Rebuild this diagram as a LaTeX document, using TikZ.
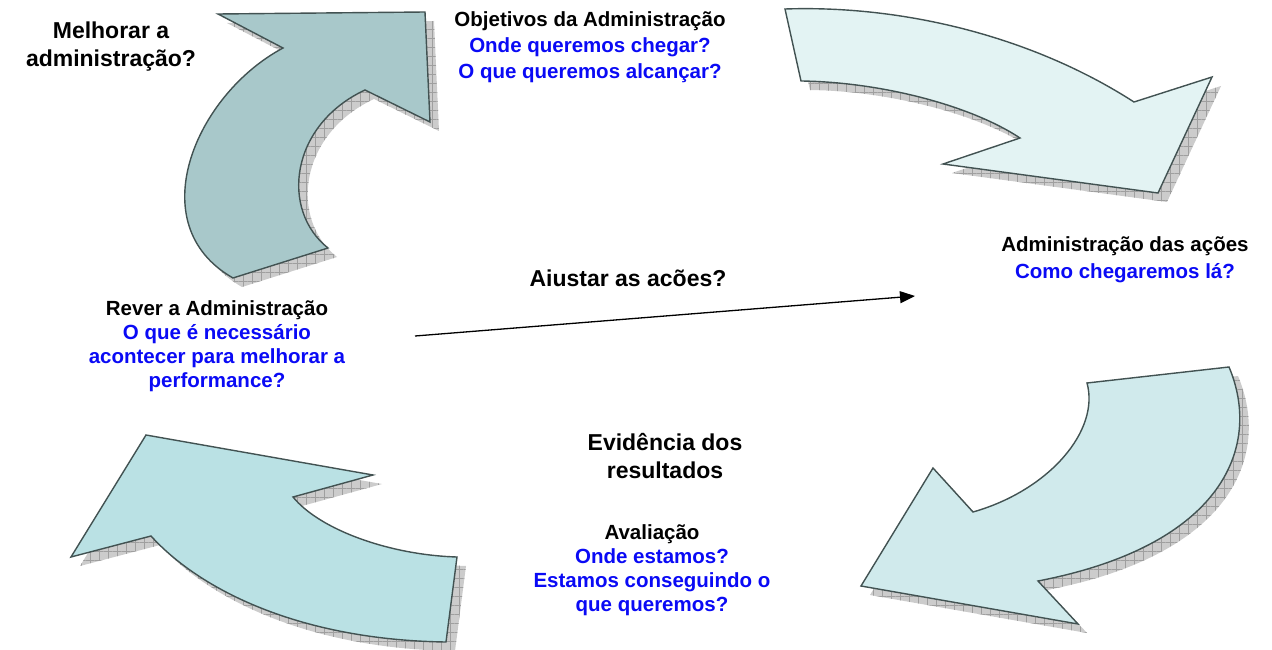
\documentclass[tikz,border=0pt]{standalone}
\usepackage{fontspec}
\setmainfont{Liberation Sans}
\usepackage{tikz}
\usetikzlibrary{shadows,calc,arrows.meta,patterns.meta}
\usetikzlibrary{positioning}
\definecolor{corA}{RGB}{168,200,202}
\definecolor{corB}{RGB}{227,243,243}
\definecolor{corC}{RGB}{208,234,236}
\definecolor{corD}{RGB}{186,225,228}
\definecolor{borda}{RGB}{66,82,82}
\definecolor{azul}{RGB}{10,10,245}

\begin{document}
\begin{tikzpicture}[x=1pt, y=-1pt,
	seta/.style={draw=borda, line width=1.4pt, line join=miter,
		general shadow={shadow xshift=9pt, shadow yshift=-9pt, fill=gray!40},
		general shadow={shadow xshift=9pt, shadow yshift=-9pt, pattern={Hatch[angle=0,distance=9pt,line width=0.35pt]}, pattern color=gray!75}},
	pergunta/.style={align=center, inner sep=0pt, anchor=north, text=azul, font=\bfseries\fontsize{20.5}{26}\selectfont},
	titulo/.style={align=center, inner sep=0pt, anchor=north, font=\bfseries\fontsize{23}{28}\selectfont}]
	\useasboundingbox (0,0) rectangle (1272,650);
	
	\draw[seta, fill=corA] (233,278) -- (328,248)
		.. controls (280,210) and (290,125) .. (365,90)
		-- (430,122) -- (425,12) -- (218,14) -- (283,48)
		.. controls (195,95) and (140,225) .. (233,278) -- cycle;
	\draw[seta, fill=corB] (785,9) -- (801,81)
		.. controls (880,82) and (970,105) .. (1020,138)
		-- (943,164) -- (1158,193) -- (1212,77) -- (1134,102)
		.. controls (1030,35) and (900,5) .. (785,9) -- cycle;
	\draw[seta, fill=corC] (1087,383) -- (1229,367)
		.. controls (1262,445) and (1225,545) .. (1038,581)
		-- (1078,624) -- (861,586) -- (933,468) -- (973,512)
		.. controls (1050,490) and (1100,430) .. (1087,383) -- cycle;
	\draw[seta, fill=corD] (446,642) -- (457,557)
		.. controls (390,555) and (320,530) .. (293,497)
		-- (373,475) -- (146,435) -- (71,557) -- (151,536)
		.. controls (200,590) and (300,640) .. (446,642) -- cycle;
	
	\node[pergunta] (objetivos) at (590,11) {\textcolor{black}{Objetivos da Administração}\\Onde queremos chegar?\\O que queremos alcançar?};
	\node[pergunta, font=\bfseries\fontsize{20.5}{27}\selectfont] (acoes) at (1125,236) {\textcolor{black}{Administração das ações}\\Como chegaremos lá?};
	\node[pergunta, font=\bfseries\fontsize{20.5}{24}\selectfont] (avaliacao) at (652,524) {\textcolor{black}{Avaliação}\\Onde estamos?\\Estamos conseguindo o\\que queremos?};
	\node[pergunta, font=\bfseries\fontsize{20.5}{24}\selectfont] (rever) at (217,300) {\textcolor{black}{Rever a Administração}\\O que é necessário\\acontecer para melhorar a\\performance?};
	
	\node[titulo] (melhorar) at (111,22) {Melhorar a\\administração?};
	\node[titulo] (ajustar) at (628,270) {Aiustar as acões?};
	\node[titulo] (evidencia) at (665,433) {Evidência dos\\resultados};
	
	\coordinate (inicio) at (415,336);
	\coordinate (fim) at (915,296);
	\draw[-{Triangle[length=15pt,width=12pt]}, line width=1.3pt] (inicio) -- (fim);
	
\end{tikzpicture}
\end{document}
